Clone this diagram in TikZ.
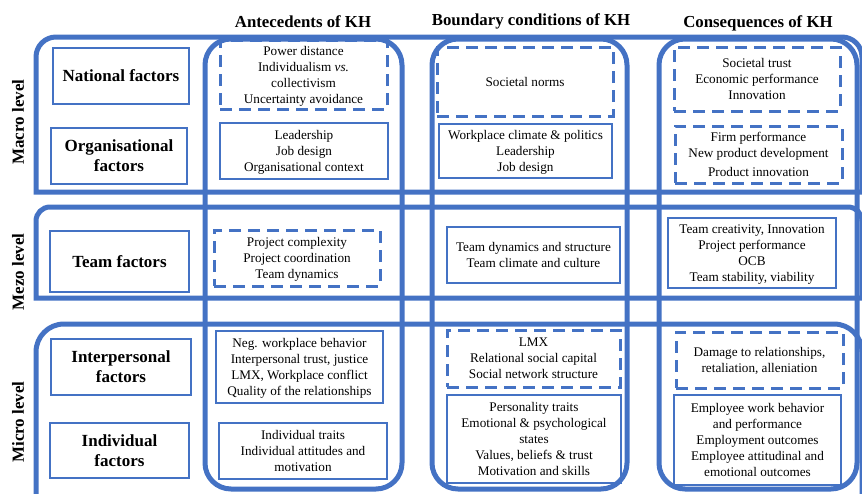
\documentclass[tikz,border=0pt]{standalone}
\usepackage{fontspec}
\setmainfont{Liberation Serif}
\definecolor{khblue}{RGB}{68,114,196}
\tikzset{
  level/.style={draw=khblue, line width=5pt},
  factor/.style={draw=khblue, line width=2.5pt, align=center, inner sep=0pt,
    font=\fontsize{17}{20}\selectfont\bfseries},
  item/.style={draw=khblue, line width=2.5pt, align=center, inner sep=0pt,
    text depth=-4.5pt, font=\fontsize{13.2}{16}\selectfont},
  dashitem/.style={item, line width=3pt, dash pattern=on 12pt off 7pt},
  boxsize/.style 2 args={minimum width=#1, minimum height=#2},
  heading/.style={font=\fontsize{16.8}{19}\selectfont\bfseries},
  levelname/.style={rotate=90, font=\fontsize{17}{19}\selectfont\bfseries}
}
\begin{document}
\begin{tikzpicture}[x=1pt,y=-1pt]
\useasboundingbox (0,0) rectangle (862,493);
\clip (0,0) rectangle (862,493);

% levels (rows)
\draw[level] (36,192) [rounded corners=20] -- (36,37) -- (862,37) [sharp corners] -- (862,192) -- cycle;
\draw[level] (36,298) [rounded corners=14] -- (36,207) -- (862,207) [sharp corners] -- (862,298) -- cycle;
\draw[level] (36,520) [rounded corners=28] -- (36,324) -- (862,324) [sharp corners] -- (862,520) -- cycle;

% columns
\draw[level, rounded corners=26] (205,39) rectangle (402,489);
\draw[level, rounded corners=26] (432,39) rectangle (627,489);
\draw[level, rounded corners=26] (659,39) rectangle (857,489);

% headings
\node[heading] (ante) at (303,22) {Antecedents of KH};
\node[heading] (bound) at (531,21) {Boundary conditions of KH};
\node[heading] (cons) at (758,23) {Consequences of KH};

\node[levelname] (macro) at (18,122) {Macro level};
\node[levelname] (mezo) at (18,272) {Mezo level};
\node[levelname] (micro) at (18,422) {Micro level};

% factors
\node[factor, boxsize={136pt}{56pt}] (national) at (121,76) {National factors};
\node[factor, boxsize={136pt}{56pt}] (organisational) at (119,156) {Organisational\\factors};
\node[factor, boxsize={139pt}{61pt}] (team) at (119.5,261.5) {Team factors};
\node[factor, boxsize={140pt}{56pt}] (interpersonal) at (121,367) {Interpersonal\\factors};
\node[factor, boxsize={139pt}{55pt}] (individual) at (119.5,450.5) {Individual\\factors};

% antecedents
\node[dashitem, boxsize={167pt}{69pt}] (a1) at (303.5,74.5) {Power distance\\Individualism \textit{vs.}\\collectivism\\Uncertainty avoidance};
\node[item, boxsize={168pt}{56pt}] (a2) at (304,151) {Leadership\\Job design\\Organisational context};
\node[dashitem, boxsize={166pt}{56pt}] (a3) at (297,258) {Project complexity\\Project coordination\\Team dynamics};
\node[item, boxsize={167pt}{72pt}] (a4) at (299.5,367) {Neg. workplace behavior\\Interpersonal trust, justice\\LMX, Workplace conflict\\Quality of the relationships};
\node[item, boxsize={168pt}{56pt}] (a5) at (303,451) {Individual traits\\Individual attitudes and\\motivation};

% boundary conditions
\node[dashitem, boxsize={176pt}{69pt}] (b1) at (525,81.5) {Societal norms};
\node[item, boxsize={173pt}{54pt}] (b2) at (525.5,151) {Workplace climate \& politics\\Leadership\\Job design};
\node[item, boxsize={173pt}{56pt}] (b3) at (533.5,255) {Team dynamics and structure\\Team climate and culture};
\node[dashitem, boxsize={173pt}{57pt}] (b4) at (533.5,358.5) {LMX\\Relational social capital\\Social network structure};
\node[item, boxsize={174pt}{88pt}] (b5) at (534,439) {Personality traits\\Emotional \& psychological\\states\\Values, beliefs \& trust\\Motivation and skills};

% consequences
\node[dashitem, boxsize={166pt}{64pt}] (c1) at (757,79) {Societal trust\\Economic performance\\Innovation};
\node[dashitem, boxsize={167pt}{57pt}] (c2) at (758.5,154.5) {Firm performance\\New product development\\[3pt]Product innovation};
\node[item, boxsize={168pt}{70pt}] (c3) at (752,253) {Team creativity, Innovation\\Project performance\\OCB\\Team stability, viability};
\node[dashitem, boxsize={167pt}{56pt}] (c4) at (759.5,360) {Damage to relationships,\\retaliation, alleniation};
\node[item, boxsize={167pt}{90pt}] (c5) at (757.5,440) {Employee work behavior\\and performance\\Employment outcomes\\Employee attitudinal and\\emotional outcomes};
\end{tikzpicture}
\end{document}
